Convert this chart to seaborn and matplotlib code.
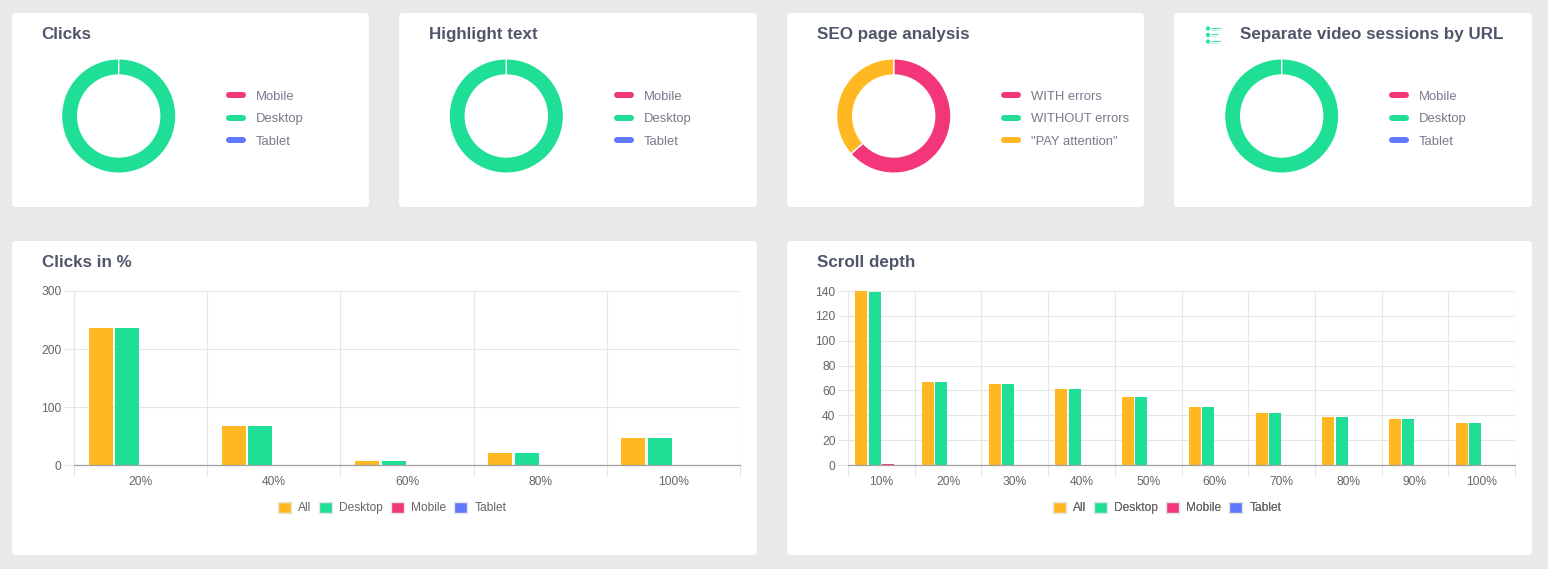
import matplotlib
matplotlib.use("Agg")
import matplotlib.pyplot as plt
from matplotlib.patches import FancyBboxPatch, Patch, Circle
from matplotlib.lines import Line2D
from matplotlib.ticker import FixedLocator
import numpy as np
import pandas as pd
import seaborn as sns

W, H = 1548, 569
PINK, GREEN, BLUE, AMBER = "#F3357A", "#1FDE96", "#5F78FF", "#FFB722"
BG, TITLE, LEG, TICK, GRID = "#E8E9EB", "#50566A", "#777B8B", "#666666", "#E6E6E6"

device_labels = ["Mobile", "Desktop", "Tablet"]
seo_labels = ["WITH errors", "WITHOUT errors", '"PAY attention"']
clicks_share = [0, 100, 0]
highlight_share = [0, 100, 0]
seo_share = [63.5, 0, 36.5]
video_share = [0, 100, 0]

series_names = ["All", "Desktop", "Mobile", "Tablet"]
clicks_cats = ["20%", "40%", "60%", "80%", "100%"]
clicks_all = [236, 68, 7, 21, 46]
clicks_desktop = [236, 68, 7, 21, 46]
clicks_mobile = [0, 0, 0, 0, 0]
clicks_tablet = [0, 0, 0, 0, 0]
scroll_cats = ["10%", "20%", "30%", "40%", "50%", "60%", "70%", "80%", "90%", "100%"]
scroll_all = [140, 67, 65, 61, 55, 47, 42, 39, 37, 34]
scroll_desktop = [139, 67, 65, 61, 55, 47, 42, 39, 37, 34]
scroll_mobile = [1, 0, 0, 0, 0, 0, 0, 0, 0, 0]
scroll_tablet = [0, 0, 0, 0, 0, 0, 0, 0, 0, 0]

sns.set_theme(style="white")
plt.rcParams["font.family"] = ["Liberation Sans", "DejaVu Sans"]

fig = plt.figure(figsize=(W / 100, H / 100), dpi=100, facecolor=BG)


def rect(x0, y0, x1, y1):
    return [x0 / W, 1 - y1 / H, (x1 - x0) / W, (y1 - y0) / H]


bg = fig.add_axes([0, 0, 1, 1], zorder=-1)
bg.set_xlim(0, W)
bg.set_ylim(H, 0)
bg.axis("off")

cards = [(12, 13, 369, 207), (399, 13, 757, 207), (787, 13, 1144, 207),
         (1174, 13, 1532, 207), (12, 241, 757, 555), (787, 241, 1532, 555)]
for x0, y0, x1, y1 in cards:
    bg.add_patch(FancyBboxPatch((x0 + 3, y0 + 3), x1 - x0 - 6, y1 - y0 - 6,
                                boxstyle="round,pad=3,rounding_size=4",
                                fc="white", ec="none"))

titles = [("Clicks", 41.5, 34), ("Highlight text", 429, 34), ("SEO page analysis", 817, 34),
          ("Separate video sessions by URL", 1240.5, 34), ("Clicks in %", 41.5, 262), ("Scroll depth", 817, 262)]
for t, x, y in titles:
    bg.text(x, y, t, fontsize=12.25, fontweight="bold", color=TITLE, ha="left", va="center")

# small list icon beside the last title
for yy, ln in zip((28.5, 35, 41.5), (14, 12, 14)):
    bg.add_patch(Circle((1208, yy), 2.2, fc=GREEN, ec="none", alpha=.9))
    bg.plot([1211, 1206 + ln], [yy - 1, yy - 1], color=GREEN, lw=.8, alpha=.8)
    bg.plot([1211, 1204 + ln], [yy + 1.2, yy + 1.2], color=GREEN, lw=.6, alpha=.4)


def donut(cx, shares, labels, colors, lx):
    ax = fig.add_axes(rect(cx - 57.2, 58.8, cx + 57.2, 173.2))
    ax.pie(shares, colors=colors, startangle=90, counterclock=False, radius=1,
           wedgeprops=dict(width=16.2 / 57.2, edgecolor="white", linewidth=1.0))
    ax.set_xlim(-1, 1)
    ax.set_ylim(-1, 1)
    handles = [Line2D([0], [0], color=c, lw=4.3, solid_capstyle="round", label=l)
               for c, l in zip(colors, labels)]
    bg.legend(handles=handles, loc="upper left", bbox_to_anchor=(lx, 90.5),
              bbox_transform=bg.transData, frameon=False, fontsize=9.4,
              labelcolor=LEG, handlelength=1.07, handletextpad=1.0,
              labelspacing=.8, borderpad=0, borderaxespad=0)
    bg.add_artist(bg.get_legend())


donut(118.7, clicks_share, device_labels, [PINK, GREEN, BLUE], 229)
donut(506.3, highlight_share, device_labels, [PINK, GREEN, BLUE], 617)
donut(893.7, seo_share, seo_labels, [PINK, GREEN, AMBER], 1004)
donut(1281.7, video_share, device_labels, [PINK, GREEN, BLUE], 1392)


def bars(box, cats, series, ymax, step, legend_left):
    ax = fig.add_axes(rect(*box))
    df = pd.DataFrame({
        "cat": np.tile(cats, len(series_names)),
        "series": np.repeat(series_names, len(cats)),
        "value": np.concatenate(series),
    })
    sns.barplot(data=df, x="cat", y="value", hue="series", hue_order=series_names,
                palette=[AMBER, GREEN, PINK, BLUE], width=.8, gap=.1, saturation=1,
                linewidth=0, legend=False, ax=ax)
    ax.set_xlim(-.5, len(cats) - .5)
    ax.set_ylim(0, ymax)
    ax.set_xlabel("")
    ax.set_ylabel("")
    ax.set_yticks(np.arange(0, ymax + 1, step))
    ax.xaxis.set_minor_locator(FixedLocator(np.arange(-.5, len(cats), 1)))
    ax.grid(True, axis="y", color=GRID, lw=.8)
    ax.grid(True, axis="x", which="minor", color=GRID, lw=.8)
    ax.set_axisbelow(True)
    ax.tick_params(axis="x", which="major", length=0, pad=8, labelsize=8.64, labelcolor=TICK)
    ax.tick_params(axis="x", which="minor", length=8, width=.8, color=GRID, bottom=True)
    ax.tick_params(axis="y", length=7, width=.8, color=GRID, pad=2, labelsize=8.64, labelcolor=TICK, left=True)
    for side in ("top", "right"):
        ax.spines[side].set_visible(False)
    ax.spines["left"].set_color(GRID)
    ax.spines["left"].set_linewidth(.8)
    ax.spines["bottom"].set_color("#A0A0A0")
    ax.spines["bottom"].set_linewidth(.9)
    handles = [Patch(fc=c, ec="#E6E6E6", lw=1, label=l)
               for c, l in zip([AMBER, GREEN, PINK, BLUE], series_names)]
    bg.legend(handles=handles, loc="center left", bbox_to_anchor=(legend_left, 508),
              bbox_transform=bg.transData, frameon=False, ncol=4, fontsize=8.64,
              labelcolor=TICK, handlelength=1.08, handleheight=1.08, handletextpad=.58,
              columnspacing=.68, borderpad=0, borderaxespad=0)
    bg.add_artist(bg.get_legend())
    return ax


bars((74, 291, 740, 465), clicks_cats,
     [clicks_all, clicks_desktop, clicks_mobile, clicks_tablet], 300, 100, 278)
bars((848, 291, 1515, 465), scroll_cats,
     [scroll_all, scroll_desktop, scroll_mobile, scroll_tablet], 140, 20, 1053)

fig.savefig("out.png", dpi=100, facecolor=BG)
